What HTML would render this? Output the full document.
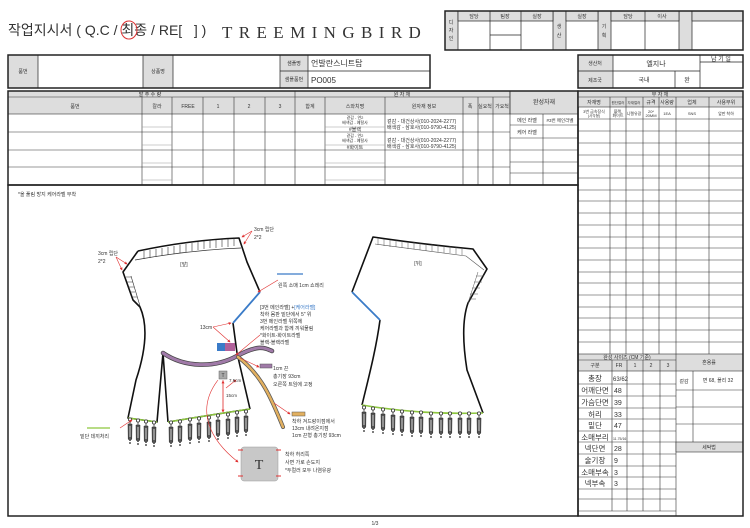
<!DOCTYPE html>
<html><head><meta charset="utf-8">
<style>
html,body{margin:0;padding:0;background:#fff;width:750px;height:528px;overflow:hidden}
svg{display:block}
text{font-family:"Liberation Sans","Noto Sans CJK KR",sans-serif;fill:#333}
.s5{font-size:5px}.s6{font-size:6px}.s7{font-size:7px}.s8{font-size:8px}
.c{text-anchor:middle}
</style></head><body>
<svg width="750" height="528" viewBox="0 0 750 528" xmlns="http://www.w3.org/2000/svg">
<defs>
<g id="ts">
<circle cx="0" cy="1.5" r="1.6" fill="#fff" stroke="#333" stroke-width="0.8"/>
<line x1="0" y1="3" x2="0" y2="6" stroke="#333" stroke-width="0.8"/>
<path d="M-2,6 L2,6 L1.8,21 L0,23 L-1.8,21 Z" fill="#555" stroke="#222" stroke-width="0.5"/>
<line x1="0" y1="8" x2="0" y2="19" stroke="#ddd" stroke-width="0.9"/>
<circle cx="0" cy="25" r="0.9" fill="#222"/>
</g>
<marker id="ar" markerWidth="5" markerHeight="5" refX="4" refY="2.5" orient="auto"><path d="M0,0 L5,2.5 L0,5 Z" fill="#e03030"/></marker>
</defs>

<!-- title -->
<text x="8" y="35" style="font-size:14px" fill="#222">작업지시서 ( Q.C / 최종 / RE[&#160;&#160;&#160;] )</text>
<ellipse cx="129" cy="30" rx="8" ry="9" fill="none" stroke="#d33" stroke-width="1"/>
<text x="222" y="38" style="font-family:'Liberation Serif',serif;font-size:17px;letter-spacing:6.4px" fill="#222">TREEMINGBIRD</text>

<!-- approval box -->
<g stroke="#222" stroke-width="0.7" fill="none">
<rect x="445" y="11" width="13" height="39" fill="#ddd"/>
<rect x="553" y="11" width="13" height="39" fill="#ddd"/>
<rect x="598" y="11" width="13" height="39" fill="#ddd"/>
<rect x="679" y="11" width="13" height="39" fill="#ddd"/>
<rect x="458" y="11" width="95" height="10" fill="#ddd"/>
<rect x="566" y="11" width="32" height="10" fill="#ddd"/>
<rect x="611" y="11" width="68" height="10" fill="#ddd"/>
<rect x="692" y="11" width="51" height="10" fill="#ddd"/>
<path d="M490,11V50M521,11V50M645,11V50M490,35H521"/>
<rect x="445" y="11" width="298" height="39" stroke-width="1.5"/>
</g>
<g class="s5">
<text x="474" y="18" class="c">담당</text><text x="505" y="18" class="c">팀장</text><text x="537" y="18" class="c">실장</text>
<text x="582" y="18" class="c">실장</text><text x="628" y="18" class="c">담당</text><text x="662" y="18" class="c">이사</text>
<text x="451" y="24" class="c">디</text><text x="451" y="32" class="c">자</text><text x="451" y="40" class="c">인</text>
<text x="559" y="28" class="c">생</text><text x="559" y="37" class="c">산</text>
<text x="604" y="28" class="c">기</text><text x="604" y="37" class="c">획</text>
</g>

<!-- info box -->
<g stroke="#222" stroke-width="0.7" fill="none">
<rect x="8" y="55" width="30" height="33" fill="#ddd"/>
<rect x="143" y="55" width="30" height="33" fill="#ddd"/>
<rect x="280" y="55" width="28" height="33" fill="#ddd"/>
<path d="M280,71H430"/>
<rect x="8" y="55" width="422" height="33" stroke-width="1.5"/>
<rect x="578" y="55" width="35" height="33" fill="#ddd"/>
<path d="M700,55V88M578,71H700M700,62H743M675,71V88"/>
<rect x="578" y="55" width="165" height="33" stroke-width="1.5"/>
</g>
<g class="s5">
<text x="23" y="73" class="c">품번</text><text x="158" y="73" class="c">상품명</text>
<text x="294" y="65" class="c">샘플명</text><text x="294" y="81" class="c">샘플품번</text>
<text x="595" y="65" class="c">생산처</text><text x="595" y="82" class="c">제조국</text>
</g>
<text x="311" y="66" class="s8">언발란스니트탑</text>
<text x="311" y="83" class="s8">PO005</text>
<text x="656" y="66" class="s7 c">엘지나</text>
<text x="721" y="61" class="s6 c">납 기 일</text>
<text x="644" y="82" class="s6 c">국내</text><text x="687" y="82" class="s6 c">완</text>

<!-- main table -->
<g stroke="#333" stroke-width="0.6" fill="none">
<rect x="8" y="91" width="502" height="23" fill="#ddd"/>
<rect x="510" y="91" width="68" height="23" fill="#ddd"/>
<path d="M8,97H510M295,91V185"/>
<path d="M142,97V185M172,97V185M203,97V185M234,97V185M265,97V185M325,97V185M385,97V185M463,97V185M478,97V185M493,97V185M510,91V185"/>
<path d="M8,132H510M8,150H510M8,167H510"/>
<path d="M510,125H578M510,138H578M510,150H578M510,162H578M510,173H578M543,114V185"/>
</g>
<g stroke="#999" stroke-width="0.5">
<path d="M142,127H172M142,145H172M142,163H172M142,180H172M325,127H385M325,145H385M325,163H385M325,180H385"/>
</g>
<rect x="8" y="91" width="570" height="94" fill="none" stroke="#222" stroke-width="1.5"/>
<g class="s5">
<text x="150" y="96" class="c">발 주 수 량</text><text x="402" y="96" class="c">원 자 재</text>
<text x="75" y="108" class="c">품번</text><text x="157" y="108" class="c">칼라</text><text x="188" y="108" class="c">FREE</text>
<text x="218" y="108" class="c">1</text><text x="249" y="108" class="c">2</text><text x="280" y="108" class="c">3</text>
<text x="310" y="108" class="c">합계</text><text x="355" y="108" class="c">스와치명</text><text x="424" y="108" class="c">원자재 정보</text>
<text x="470" y="108" class="c">폭</text><text x="485" y="108" class="c">실요척</text><text x="502" y="108" class="c">가요척</text>
<text x="544" y="104" class="s6 c">완성자재</text>
<text x="527" y="122" class="c">메인 라벨</text><text x="560" y="122" class="c" style="font-size:4.5px">#3번 메인라벨</text>
<text x="527" y="134" class="c">케어 라벨</text>
<text x="355" y="119" class="c" style="font-size:4px">겉감 - 연2</text><text x="355" y="124" class="c" style="font-size:4px">배색감 - 예탈사</text><text x="355" y="131" class="c">#블랙</text>
<text x="355" y="137" class="c" style="font-size:4px">겉감 - 연2</text><text x="355" y="142" class="c" style="font-size:4px">배색감 - 예탈사</text><text x="355" y="149" class="c">#화이트</text>
<text x="387" y="123">겉감 - 대건상사(010-2024-2277)</text><text x="387" y="129">배색감 - 삼호사(010-9790-4125)</text>
<text x="387" y="142">겉감 - 대건상사(010-2024-2277)</text><text x="387" y="148">배색감 - 삼호사(010-9790-4125)</text>
</g>

<!-- right panel -->
<g stroke="#333" stroke-width="0.6" fill="none">
<rect x="578" y="91" width="165" height="16" fill="#ddd"/>
<path d="M578,97H743"/>
<path d="M610,97V354M626,97V354M643,97V354M659,97V354M676,97V354M709,97V354"/>
<path d="M578,119H743M578,131H743M578,143H743M578,155H743M578,166H743M578,178H743M578,190H743M578,201H743M578,213H743M578,225H743M578,237H743M578,248H743M578,260H743M578,272H743M578,283H743M578,295H743M578,307H743M578,318H743M578,330H743M578,342H743"/>
<rect x="578" y="354" width="165" height="17" fill="#ddd"/>
<path d="M578,360H676M676,354V516M612,360V511M627,360V511M643,360V511M660,360V511"/>
<path d="M578,384H676M578,396H676M578,408H676M578,419H676M578,431H676M578,442H676M578,454H676M578,466H676M578,477H676M578,489H676M578,499H676M578,511H676"/>
<path d="M693,371V442M676,390H743M676,407H743M676,424H743"/>
<rect x="676" y="442" width="67" height="10" fill="#ddd"/>
</g>
<rect x="578" y="91" width="165" height="425" fill="none" stroke="#222" stroke-width="1.5"/>
<g class="s5">
<text x="660" y="96" class="c">부 자 재</text>
<text x="594" y="104" class="c">자재명</text><text x="618" y="104" class="c" style="font-size:3.5px">원단컬러</text><text x="634" y="104" class="c" style="font-size:3.5px">자재컬러</text>
<text x="651" y="104" class="c">규격</text><text x="667" y="104" class="c">사용량</text><text x="692" y="104" class="c">업체</text><text x="726" y="104" class="c">사용부위</text>
<text x="594" y="113" class="c" style="font-size:4px">3번 금속장식</text><text x="594" y="117" class="c" style="font-size:3.5px">(사각형)</text>
<text x="618" y="113" class="c" style="font-size:4px">블랙,</text><text x="618" y="117" class="c" style="font-size:4px">화이트</text>
<text x="634" y="115" class="c" style="font-size:4px">니켈유광</text>
<text x="651" y="113" class="c" style="font-size:4px">20*</text><text x="651" y="117" class="c" style="font-size:4px">20MM</text>
<text x="667" y="115" class="c" style="font-size:4px">1EA</text><text x="692" y="115" class="c" style="font-size:4px">SNS</text><text x="726" y="115" class="c" style="font-size:4px">앞판 착하</text>
<text x="627" y="359" class="c">완성 사이즈 (CM 기준)</text>
<text x="595" y="367" class="c">구분</text><text x="619" y="367" class="c">FR</text><text x="635" y="367" class="c">1</text><text x="651" y="367" class="c">2</text><text x="668" y="367" class="c">3</text>
<text x="709" y="364" class="c">혼용률</text>
<text x="684" y="383" class="c">겉감</text><text x="718" y="382" class="c">면 68, 폴리 32</text>
<text x="709" y="449" class="c">세탁법</text>
</g>
<g style="font-size:7.5px" fill="#222">
<text x="595" y="381" class="c">총장</text><text x="595" y="393" class="c">어깨단면</text><text x="595" y="405" class="c">가슴단면</text>
<text x="595" y="417" class="c">허리</text><text x="595" y="428" class="c">밑단</text><text x="595" y="440" class="c">소매부리</text>
<text x="595" y="451" class="c">넥단면</text><text x="595" y="463" class="c">술기장</text><text x="595" y="475" class="c">소매부속</text>
<text x="595" y="486" class="c">넥부속</text>
</g>
<g style="font-size:7px">
<text x="613" y="381" style="font-size:6px">63/62</text><text x="614" y="393">48</text><text x="614" y="405">39</text>
<text x="614" y="417">33</text><text x="614" y="428">47</text><text x="613" y="440" style="font-size:3.5px">11.75/16</text>
<text x="614" y="451">28</text><text x="614" y="463">9</text><text x="614" y="475">3</text><text x="614" y="486">3</text>
</g>

<!-- drawing box -->
<rect x="8" y="185" width="570" height="331" fill="none" stroke="#222" stroke-width="1.5"/>
<text x="18" y="196" class="s5">*올 풀림 방지 케어라벨 부착</text>

<!-- front -->
<g fill="none" stroke="#111" stroke-width="1.6" stroke-linejoin="round">
<path d="M138,251 Q190,240 239,238 L247,262 L260,292"/>
<path d="M233,323 L237,353 L250,409"/>
<path d="M168,422 Q210,415 250,409"/>
<path d="M138,251 L123,272 L133,300 L140,307 C148,325 146,350 136,380 L128,418 L157,422 L163,353 L168,422"/>
</g>
<path d="M135,260 Q190,250 241,248" fill="none" stroke="#333" stroke-width="0.7"/>
<g stroke="#333" stroke-width="0.6">
<path d="M144,251V259M150,250V258M156,249V257M162,248V256M168,247V255M174,246V254M180,245V253M186,244V252M192,243V251M198,242V250M204,241V249M210,240V248M216,240V248M222,239V247M228,239V247M234,238V246"/>
<path d="M126,277H131M127,282H133M128,287H134M130,292H135M131,297H137"/>
<path d="M131,276 L140,306"/>
</g>
<path d="M233,323 L260,292" stroke="#3a7bc8" stroke-width="1.8" fill="none"/>
<path d="M128,418 L157,422 M168,422 Q210,415 250,409" stroke="#8dc63f" stroke-width="1.6" fill="none"/>
<text x="184" y="266" class="s5 c">[앞]</text>
<g>
<use href="#ts" x="130" y="418"/><use href="#ts" x="138" y="419"/><use href="#ts" x="146" y="420"/><use href="#ts" x="154" y="421"/>
<use href="#ts" x="171" y="421"/><use href="#ts" x="180" y="420"/><use href="#ts" x="190" y="418"/><use href="#ts" x="199" y="417"/>
<use href="#ts" x="209" y="416"/><use href="#ts" x="218" y="414"/><use href="#ts" x="228" y="413"/><use href="#ts" x="237" y="411"/><use href="#ts" x="246" y="410"/>
</g>
<!-- straps -->
<path d="M163,353 C185,368 215,368 237,356 S265,348 272,351" fill="none" stroke="#444" stroke-width="4.5" stroke-linecap="round"/>
<path d="M163,353 C185,368 215,368 237,356 S265,348 272,351" fill="none" stroke="#a07aa8" stroke-width="3" stroke-linecap="round"/>
<path d="M238,357 C262,375 272,400 283,427" fill="none" stroke="#555" stroke-width="4" stroke-linecap="round"/>
<path d="M238,357 C262,375 272,400 283,427" fill="none" stroke="#e2b060" stroke-width="2.5" stroke-linecap="round"/>
<rect x="217" y="343" width="8" height="8" fill="#3a7bc8"/><rect x="225" y="343" width="10" height="8" fill="#b0609a"/>
<rect x="219" y="371" width="8" height="8" fill="#aaa" stroke="#666" stroke-width="0.5"/>
<text x="223" y="377" class="c" style="font-size:5px">T</text>
<rect x="241" y="447" width="37" height="34" rx="3" fill="#c8c8c8" stroke="#999" stroke-width="0.5"/>
<text x="259" y="469" class="c" style="font-family:'Liberation Serif',serif;font-size:14px" fill="#333">T</text>
<g stroke="#e03030" stroke-width="1"><path d="M238,450h5M276,450h5M238,476h5M276,476h5"/></g>

<!-- annotations red -->
<g stroke="#e03030" stroke-width="0.6" fill="none" marker-end="url(#ar)">
<path d="M252,231 L242,237"/><path d="M252,231 L244,244"/>
<path d="M116,257 L127,264"/><path d="M116,257 L122,270"/>
<path d="M278,280 L258,292"/>
<path d="M213,327 L231,323"/><path d="M213,327 L230,342"/>
<path d="M260,335 L236,355"/>
<path d="M240,358 L259,367"/>
<path d="M274,403 L290,414"/>
<path d="M120,428 L132,420"/>
<path d="M226,388 L236,380"/>
<path d="M223,380 L223,412"/><path d="M223,412 L223,381"/>
<path d="M218,380 C195,410 210,440 238,462"/>
</g>
<g class="s5">
<text x="254" y="231">3cm 립단</text><text x="254" y="239">2*2</text>
<text x="98" y="255">3cm 립단</text><text x="98" y="263">2*2</text>
<text x="278" y="287">왼쪽 소매 1cm 쇼레리</text>
<text x="200" y="329">13cm</text>
<text x="260" y="309" fill="#d33">[3번 메인라벨]<tspan fill="#333"> +</tspan><tspan fill="#3a7bc8">[케어라벨]</tspan></text>
<text x="260" y="316">착하 몸판 밑단에서 5" 위</text>
<text x="260" y="323">3번 메인라벨 위쪽에</text>
<text x="260" y="330">케어라벨과 함께 끼워물림</text>
<text x="260" y="337">*화이트-화이트라벨</text>
<text x="260" y="344">블랙-블랙라벨</text>
<text x="273" y="370">1cm 끈</text><text x="273" y="378">총기장 93cm</text><text x="273" y="386">오른쪽 트임에 고정</text>
<text x="229" y="382" style="font-size:4.5px">7.5cm</text>
<text x="226" y="397" style="font-size:4.5px">15cm</text>
<text x="292" y="423">착하 겨드랑이점에서</text><text x="292" y="430">13cm 내려온지점</text><text x="292" y="437">1cm 끈형 총기장 93cm</text>
<text x="80" y="438">밑단 데끼처리</text>
<text x="285" y="456">착하 허리쪽</text><text x="285" y="464">사면 가로 손도지</text><text x="285" y="472">*두컬러 모두 나염유광</text>
</g>
<rect x="260" y="364" width="12" height="4" fill="#a07aa8" stroke="#555" stroke-width="0.5"/>
<rect x="292" y="412" width="13" height="4" fill="#e2b060" stroke="#555" stroke-width="0.5"/>
<line x1="87" y1="428" x2="110" y2="428" stroke="#8dc63f" stroke-width="1.2"/>
<line x1="277" y1="274" x2="303" y2="274" stroke="#3a7bc8" stroke-width="1.2"/>

<!-- back -->
<g fill="none" stroke="#111" stroke-width="1.6" stroke-linejoin="round">
<path d="M352,292 L373,237 Q420,244 473,249 L487,269 L468,303 C462,320 463,345 467,370 L483,413"/>
<path d="M380,320 C376,350 368,380 362,405"/>
</g>
<path d="M352,292 L380,320" stroke="#3a7bc8" stroke-width="1.8" fill="none"/>
<path d="M362,405 Q420,415 483,413" stroke="#8dc63f" stroke-width="1.6" fill="none"/>
<path d="M375,244 Q420,250 466,256 L484,270" fill="none" stroke="#555" stroke-width="0.6"/>
<g stroke="#555" stroke-width="0.5">
<path d="M378,238V245M384,239V246M390,240V247M396,240V247M402,241V248M408,242V249M414,242V249M420,243V250M426,244V251M432,244V251M438,245V252M444,246V253M450,246V253M456,247V254M462,248V255"/>
<path d="M476,276H484M474,282H482M472,288H480M470,294H478M469,299H476"/>
<path d="M478,272 L468,303"/>
</g>
<text x="418" y="265" class="s5 c">[뒤]</text>
<g>
<use href="#ts" x="364" y="406"/><use href="#ts" x="373" y="407"/><use href="#ts" x="383" y="408"/><use href="#ts" x="393" y="409"/>
<use href="#ts" x="402" y="410"/><use href="#ts" x="412" y="411"/><use href="#ts" x="421" y="411"/><use href="#ts" x="431" y="412"/>
<use href="#ts" x="441" y="412"/><use href="#ts" x="450" y="412"/><use href="#ts" x="460" y="412"/><use href="#ts" x="469" y="412"/><use href="#ts" x="479" y="412"/>
</g>

<text x="375" y="525" class="s5 c">1/3</text>
</svg>
</body></html>
